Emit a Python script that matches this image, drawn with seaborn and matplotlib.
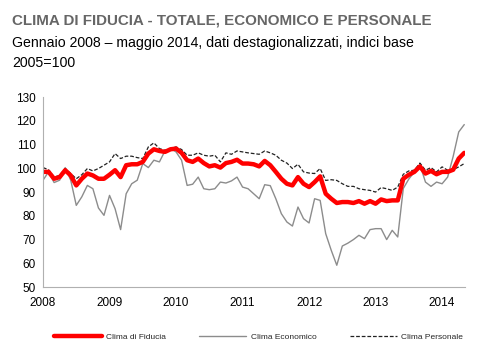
import numpy as np
import pandas as pd
import matplotlib
matplotlib.use("Agg")
import matplotlib.pyplot as plt
import seaborn as sns

start_year = 2008
n_months = 77  # Jan 2008 - May 2014

clima_fiducia = [98.5, 98.5, 95.6, 96.3, 99.2, 97.0, 92.8, 95.6, 97.8, 97.0, 95.6, 95.6,
                 97.3, 99.2, 96.3, 101.3, 101.7, 101.7, 102.7, 106.2, 108.0, 107.3, 106.9, 108.0,
                 108.3, 106.5, 103.4, 102.7, 104.1, 102.2, 100.8, 101.3, 100.3, 102.2, 102.7, 103.6,
                 102.0, 102.0, 101.7, 100.8, 103.1, 101.3, 98.5, 95.6, 93.5, 92.8, 96.3, 93.5,
                 92.1, 94.2, 96.6, 89.3, 87.2, 85.4, 85.8, 85.8, 85.4, 86.2, 85.1, 86.2,
                 85.1, 86.9, 86.2, 86.5, 86.5, 95.6, 97.3, 98.5, 100.8, 97.8, 98.9, 97.5,
                 98.5, 98.5, 99.4, 104.1, 106.5]

clima_economico = [95.0, 98.5, 94.0, 95.0, 100.3, 95.0, 84.4, 88.0, 92.8, 91.4, 83.3, 80.2,
                   88.6, 83.0, 74.2, 89.3, 93.5, 95.0, 102.0, 100.3, 103.4, 102.7, 107.3, 108.3,
                   106.9, 103.4, 92.8, 93.3, 96.3, 91.4, 91.0, 91.4, 94.2, 93.8, 94.7, 96.3,
                   92.1, 91.4, 89.3, 87.2, 93.1, 92.7, 87.2, 80.9, 77.4, 75.7, 83.7, 78.8,
                   77.0, 87.2, 86.5, 72.5, 65.5, 59.2, 67.3, 68.5, 70.0, 71.8, 70.4, 74.2,
                   74.6, 74.6, 70.0, 73.9, 71.1, 91.5, 95.5, 98.5, 101.5, 94.2, 92.4, 94.2,
                   93.5, 96.3, 105.0, 115.3, 118.4]

clima_personale = [100.3, 99.4, 96.3, 97.0, 99.9, 97.8, 95.6, 97.3, 99.9, 98.9, 99.9, 101.3,
                   102.7, 106.2, 104.1, 105.1, 105.1, 104.5, 104.1, 109.0, 110.7, 108.3, 107.6, 108.3,
                   109.0, 107.9, 105.5, 105.5, 106.5, 105.5, 105.1, 105.5, 102.7, 106.5, 105.9, 107.3,
                   106.9, 106.5, 106.2, 105.9, 107.3, 106.5, 105.5, 103.4, 102.2, 99.9, 101.7, 98.5,
                   98.0, 97.8, 99.9, 94.9, 95.2, 94.9, 93.5, 92.4, 92.4, 91.4, 91.0, 90.7,
                   90.0, 91.9, 91.4, 90.7, 92.1, 97.5, 98.9, 99.2, 102.2, 99.2, 100.3, 98.5,
                   100.6, 99.2, 99.4, 100.6, 102.0]

year_ticks = [2008, 2009, 2010, 2011, 2012, 2013, 2014]
y_ticks = [50, 60, 70, 80, 90, 100, 110, 120, 130]

title = "CLIMA DI FIDUCIA - TOTALE, ECONOMICO E PERSONALE"
subtitle_1 = "Gennaio 2008 \u2013 maggio 2014, dati destagionalizzati, indici base"
subtitle_2 = "2005=100"

t = start_year + np.arange(n_months) / 12.0
df = pd.DataFrame({"t": t, "fid": clima_fiducia, "eco": clima_economico, "pers": clima_personale})

sns.set_style("white")
plt.rcParams["font.family"] = ["Liberation Sans", "DejaVu Sans"]

fig = plt.figure(figsize=(4.78, 3.58), dpi=100)
ax = fig.add_axes([0.09, 0.198, 0.883, 0.531])

sns.lineplot(data=df, x="t", y="eco", ax=ax, color="#8c8c8c", linewidth=1.0, label="Clima Economico")
sns.lineplot(data=df, x="t", y="pers", ax=ax, color="#222222", linewidth=0.9,
             linestyle=(0, (3, 1.5)), label="Clima Personale")
sns.lineplot(data=df, x="t", y="fid", ax=ax, color="#ff0000", linewidth=3.2, label="Clima di Fiducia",
             solid_capstyle="round", solid_joinstyle="round")

ax.set_xlim(2008, 2008 + (465 - 43) / 66.5)
ax.set_ylim(50, 130)
ax.set_xticks(year_ticks)
ax.set_xticklabels([str(y) for y in year_ticks])
ax.set_yticks(y_ticks)
ax.set_xlabel("")
ax.set_ylabel("")
for s in ["top", "right"]:
    ax.spines[s].set_visible(False)
for s in ["left", "bottom"]:
    ax.spines[s].set_color("#b0b0b0")
    ax.spines[s].set_linewidth(0.8)
ax.tick_params(axis="both", which="both", direction="out", length=3, width=0.8,
               color="#b0b0b0", labelsize=8.5, labelcolor="#000000", pad=2)
ax.tick_params(axis="x", pad=4)

handles, labels = ax.get_legend_handles_labels()
order = [labels.index("Clima di Fiducia"), labels.index("Clima Economico"), labels.index("Clima Personale")]
ax.legend([handles[i] for i in order], [labels[i] for i in order],
          loc="center left", bbox_to_anchor=(0.113, 0.058), bbox_transform=fig.transFigure,
          ncol=3, frameon=False, fontsize=6.0, handlelength=5.7, columnspacing=4.0,
          handletextpad=0.5, borderpad=0, borderaxespad=0)

fig.text(0.025, 0.942, title, fontsize=10.9, fontweight="bold", color="#666666", ha="left", va="center")
fig.text(0.025, 0.880, subtitle_1, fontsize=10.2, color="#000000", ha="left", va="center")
fig.text(0.025, 0.825, subtitle_2, fontsize=10.2, color="#000000", ha="left", va="center")

fig.savefig("out.png", dpi=100)
